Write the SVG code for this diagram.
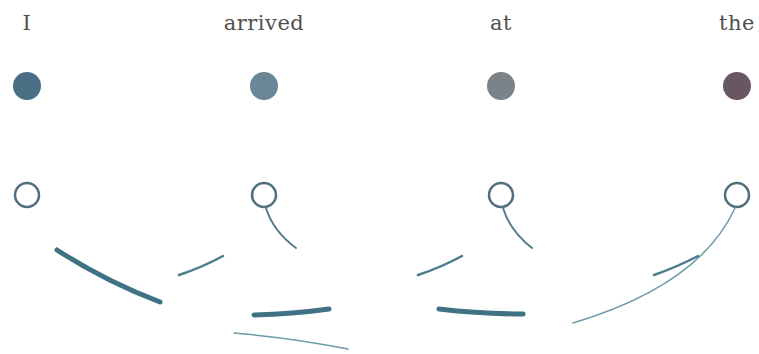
<svg xmlns="http://www.w3.org/2000/svg" width="759" height="354" viewBox="0 0 759 354">
<style>
.word{font-family:"DejaVu Serif","Liberation Serif",serif;font-size:21px;fill:#505050;text-anchor:middle;letter-spacing:0.5px}
.hollow{fill:#fff;stroke:#4f6f7c;stroke-width:2.5}
.c{fill:none;stroke-linecap:round}
.thick{stroke:#3f7384;stroke-width:5}
.mid{stroke:#4d7b8a;stroke-width:2.5}
.tail{stroke:#557c8a;stroke-width:2}
.thin{stroke:#6b9aa8;stroke-width:1.5}
</style>
<rect width="759" height="354" fill="#fff"/>
<g id="word-I"><text class="word" x="27" y="30">I</text><circle cx="27" cy="86" r="14" fill="#4a6e84"/><circle class="hollow" cx="27" cy="195" r="12"/></g>
<g id="word-arrived"><text class="word" x="264" y="30">arrived</text><circle cx="264" cy="86" r="14" fill="#698797"/><circle class="hollow" cx="264" cy="195" r="12"/></g>
<g id="word-at"><text class="word" x="501" y="30">at</text><circle cx="501" cy="86" r="14" fill="#7b8388"/><circle class="hollow" cx="501" cy="195" r="12"/></g>
<g id="word-the"><text class="word" x="737" y="30">the</text><circle cx="737" cy="86" r="14" fill="#695663"/><circle class="hollow" cx="737" cy="195" r="12"/></g>
<g id="connectors">
<path class="c thick" d="M57 250 Q105 281 160 302"/>
<path class="c mid" d="M179 275 Q203 267 223 256"/>
<path class="c tail" d="M266 208 Q273 231 296 248"/>
<path class="c thick" d="M254 315 Q293 314 329 309"/>
<path class="c thin" d="M234 333 Q293 338 348 349"/>
<path class="c mid" d="M418 275 Q442 267 462 256"/>
<path class="c tail" d="M503 208 Q510 231 532 248"/>
<path class="c thick" d="M439 309 Q482 314 523 314"/>
<path class="c thin" d="M573 323 Q700 285 735 208"/>
<path class="c mid" d="M654 275 Q677 267 698 256"/>
</g>
</svg>
